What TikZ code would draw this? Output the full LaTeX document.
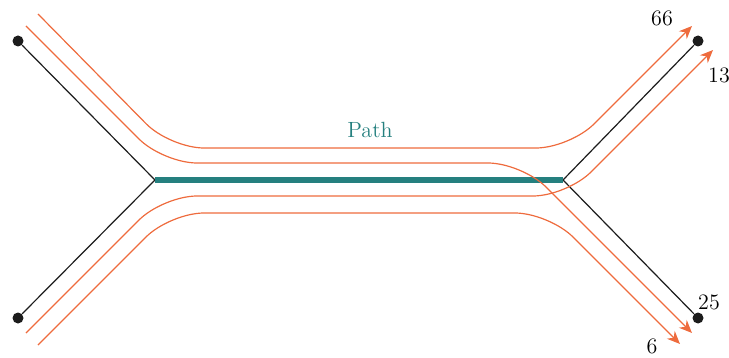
\documentclass[tikz,border=0pt]{standalone}
\usetikzlibrary{arrows.meta}
\definecolor{flowred}{HTML}{EE6B3D}
\definecolor{pathteal}{HTML}{25807F}
\definecolor{nodeink}{HTML}{1C1C1C}
\tikzset{leaf/.style={circle,fill=nodeink,minimum size=5.5pt,inner sep=0pt},branch/.style={nodeink,line width=.6pt},route/.style={pathteal,line width=2.6pt},flow/.style={flowred,line width=.6pt,rounded corners=17pt},flowend/.style={-{Stealth[length=6.5pt,width=5.5pt]}},amount/.style={font=\fontsize{11}{13}\selectfont,inner sep=0pt},every picture/.style={line cap=butt}}

\begin{document}
\begin{tikzpicture}[x=.5pt,y=-.5pt]
\useasboundingbox (0,0) rectangle (729,358);
\node[leaf] (tl) at (18,41) {};
\node[leaf] (bl) at (18,318) {};
\node[leaf] (tr) at (698,41) {};
\node[leaf] (br) at (698,318) {};
\coordinate (jl) at (155,180);
\coordinate (jr) at (563,180);
\draw[branch] (tl)--(jl)--(bl);
\draw[branch] (tr)--(jr)--(br);
\draw[route] (jl)--(jr);
\node[amount,text=pathteal] (pathlbl) at (370,130) {Path};
\coordinate (a0) at (38,14);   \coordinate (a1) at (692,26);
\coordinate (b0) at (26,26);   \coordinate (b1) at (692,333);
\coordinate (c0) at (26,333);  \coordinate (c1) at (713,50);
\coordinate (d0) at (38,345);  \coordinate (d1) at (680,344);
\draw[flow,flowend] (a0)--(170,148)--(570,148)--(a1);
\draw[flow,flowend] (b0)--(163,163)--(522,163)--(b1);
\draw[flow,flowend] (c0)--(163,196)--(567,196)--(c1);
\draw[flow,flowend] (d0)--(170,213)--(549,213)--(d1);
\node[amount] (n66) at (662,18) {66};
\node[amount] (n13) at (719,75) {13};
\node[amount] (n25) at (709,302) {25};
\node[amount] (n6) at (652,346) {6};
\end{tikzpicture}
\end{document}
